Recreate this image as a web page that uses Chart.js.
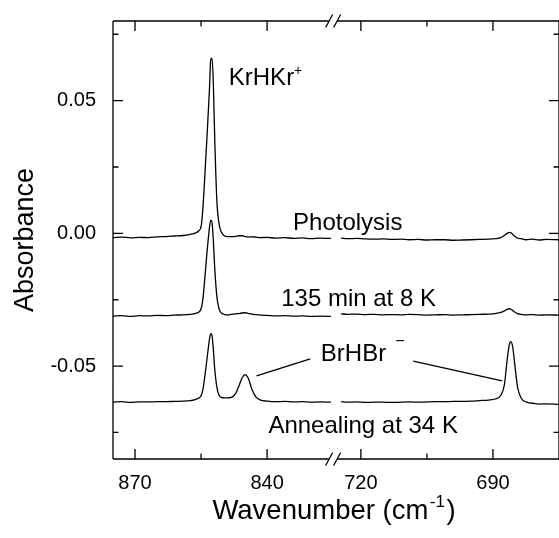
<!DOCTYPE html>
<html>
<head>
<meta charset="utf-8">
<script src="https://cdn.jsdelivr.net/npm/chart.js@4/dist/chart.umd.min.js"></script>
<style>
  html, body { margin: 0; padding: 0; background: #fff; }
</style>
</head>
<body>
<canvas id="myChart" width="559" height="538"></canvas>
<script>
// wavenumber grid (cm-1): left segment, one gap point, right segment
const wavenumbers = [
  875, 873, 871, 869, 867, 865, 863, 861, 859, 857.5, 856.5, 855.5, 855, 854.6, 854.2,
  853.7, 853.1, 852.8, 852.5, 852.2, 851.9, 851.4, 850.9, 850.4, 849.8, 849, 848.1,
  847.2, 846.4, 845.7, 845, 844.3, 843.5, 842.6, 841.5, 840, 838, 836, 834, 832, 830,
  828, 825.5,
  775,
  724.5, 723, 721, 719, 717, 715, 713, 711, 709, 707, 705, 703, 701, 699, 697, 695, 693,
  691, 689.5, 688.2, 687.4, 686.8, 686.3, 685.9, 685.5, 685, 684.4, 683.6, 682.5, 681,
  679.5, 678, 675
];

const photolysis = [
  -0.0016, -0.0014, -0.0017, -0.0015, -0.0016, -0.0013, -0.0012, -0.0010, -0.0008, -0.0004,
  0.0000, 0.0010, 0.0025, 0.0090, 0.0200, 0.0350, 0.0540, 0.0655, 0.0660, 0.0560, 0.0360,
  0.0120, 0.0035, 0.0005, -0.0008, -0.0012, -0.0012, -0.0011, -0.0009, -0.0009, -0.0012,
  -0.0014, -0.0013, -0.0014, -0.0016, -0.0015, -0.0018, -0.0016, -0.0019, -0.0017, -0.0020,
  -0.0018, -0.0019,
  null,
  -0.0018, -0.0020, -0.0019, -0.0021, -0.0022, -0.0021, -0.0023, -0.0022, -0.0024, -0.0023,
  -0.0025, -0.0024, -0.0024, -0.0026, -0.0025, -0.0024, -0.0023, -0.0022, -0.0020, -0.0016,
  -0.0008, 0.0000, 0.0004, 0.0002, -0.0004, -0.0012, -0.0018, -0.0020, -0.0024, -0.0022,
  -0.0025, -0.0023, -0.0024
];

const after135min = [
  -0.0312, -0.0310, -0.0313, -0.0310, -0.0311, -0.0309, -0.0310, -0.0308, -0.0307, -0.0305,
  -0.0302, -0.0296, -0.0285, -0.0250, -0.0180, -0.0080, 0.0020, 0.0050, 0.0040, -0.0030,
  -0.0130, -0.0240, -0.0285, -0.0300, -0.0305, -0.0307, -0.0305, -0.0303, -0.0302, -0.0300,
  -0.0299, -0.0301, -0.0304, -0.0306, -0.0308, -0.0309, -0.0311, -0.0310, -0.0312, -0.0311,
  -0.0313, -0.0312, -0.0313,
  null,
  -0.0303, -0.0305, -0.0304, -0.0306, -0.0305, -0.0307, -0.0306, -0.0307, -0.0305, -0.0306,
  -0.0308, -0.0307, -0.0306, -0.0308, -0.0307, -0.0306, -0.0305, -0.0304, -0.0302, -0.0298,
  -0.0292, -0.0286, -0.0284, -0.0286, -0.0291, -0.0297, -0.0302, -0.0305, -0.0307, -0.0306,
  -0.0308, -0.0307, -0.0308
];

const annealing = [
  -0.0636, -0.0634, -0.0637, -0.0635, -0.0635, -0.0634, -0.0634, -0.0633, -0.0632, -0.0630,
  -0.0627, -0.0620, -0.0612, -0.0590, -0.0545, -0.0480, -0.0400, -0.0378, -0.0385, -0.0440,
  -0.0510, -0.0580, -0.0610, -0.0618, -0.0620, -0.0620, -0.0618, -0.0605, -0.0575, -0.0545,
  -0.0532, -0.0545, -0.0585, -0.0615, -0.0628, -0.0632, -0.0634, -0.0633, -0.0635, -0.0634,
  -0.0636, -0.0635, -0.0636,
  null,
  -0.0634, -0.0636, -0.0635, -0.0637, -0.0636, -0.0636, -0.0637, -0.0636, -0.0635, -0.0636,
  -0.0635, -0.0634, -0.0634, -0.0633, -0.0633, -0.0632, -0.0630, -0.0628, -0.0624, -0.0610,
  -0.0570, -0.0480, -0.0420, -0.0408, -0.0430, -0.0500, -0.0580, -0.0620, -0.0635, -0.0640,
  -0.0643, -0.0642, -0.0644
];

const xTicks = [870, 855, 840, 720, 705, 690];
const xLabels = [870, 840, 720, 690];
const yTicks = [-0.075, -0.05, -0.025, 0, 0.025, 0.05, 0.075];
const yLabels = [-0.05, 0, 0.05];

// text notes, anchored in data units
const notes = [
  { text: 'KrHKr', sup: '+', w: 848.7, a: 0.0559, gap: 0, rise: 10 },
  { text: 'Photolysis', w: 834.1, a: 0.0013 },
  { text: '135 min at 8 K', w: 836.8, a: -0.0274 },
  { text: 'BrHBr', sup: '\u2212', w: 827.8, a: -0.0481, gap: 9, rise: 15 },
  { text: 'Annealing at 34 K', w: 839.7, a: -0.0752 }
];
const leaders = [
  [842.4, -0.0537, 830.2, -0.0473],
  [708.1, -0.0481, 687.9, -0.0556]
];

// broken x axis: 875..825 then 726.3..675
const LEFT_HI = 875, LEFT_LO = 825, RIGHT_HI = 726.3, RIGHT_LO = 675;
const SPAN = (LEFT_HI - LEFT_LO) + (RIGHT_HI - RIGHT_LO);

function toDecimal(w) {
  const u = w > (LEFT_LO + RIGHT_HI) / 2 ? LEFT_HI - w : (LEFT_HI - LEFT_LO) + (RIGHT_HI - w);
  return u / SPAN;
}

class BrokenScale extends Chart.LinearScale {
  getPixelForValue(value) {
    return this.getPixelForDecimal(toDecimal(value));
  }
  getValueForPixel(pixel) {
    const u = this.getDecimalForPixel(pixel) * SPAN;
    return u < LEFT_HI - LEFT_LO ? LEFT_HI - u : RIGHT_HI - (u - (LEFT_HI - LEFT_LO));
  }
}
BrokenScale.id = 'broken';
BrokenScale.defaults = {};
Chart.register(BrokenScale);

const FONT = '"Liberation Sans", Arial, sans-serif';
Chart.defaults.font.family = FONT;
Chart.defaults.color = '#000';

function series(values) {
  return wavenumbers.map((w, i) => ({ x: w, y: values[i] }));
}

function lineSet(values) {
  return {
    data: series(values),
    borderColor: '#000',
    borderWidth: 1.3,
    pointRadius: 0,
    cubicInterpolationMode: 'monotone',
    spanGaps: false
  };
}

const isIn = (list, v) => list.some(l => Math.abs(l - v) < 1e-9);

const frame = {
  id: 'frame',
  afterDraw(chart) {
    const { ctx, chartArea: a, scales: { x, y } } = chart;
    const xb = x.getPixelForValue(LEFT_LO);
    ctx.save();
    ctx.strokeStyle = '#000';
    ctx.lineWidth = 1.3;
    ctx.beginPath();
    ctx.moveTo(a.left, a.top); ctx.lineTo(a.left, a.bottom);
    ctx.moveTo(a.right, a.top); ctx.lineTo(a.right, a.bottom);
    [a.top, a.bottom].forEach(yy => {
      ctx.moveTo(a.left, yy); ctx.lineTo(xb - 4, yy);
      ctx.moveTo(xb + 4, yy); ctx.lineTo(a.right, yy);
      [xb - 4, xb + 4].forEach(sx => {
        ctx.moveTo(sx - 3.5, yy + 6.5); ctx.lineTo(sx + 3.5, yy - 6.5);
      });
    });
    xTicks.forEach(v => {
      const px = x.getPixelForValue(v);
      const len = isIn(xLabels, v) ? 10 : 5.5;
      ctx.moveTo(px, a.bottom); ctx.lineTo(px, a.bottom - len);
      ctx.moveTo(px, a.top); ctx.lineTo(px, a.top + len);
    });
    yTicks.forEach(v => {
      const py = y.getPixelForValue(v);
      const len = isIn(yLabels, v) ? 10 : 5.5;
      ctx.moveTo(a.left, py); ctx.lineTo(a.left + len, py);
      ctx.moveTo(a.right, py); ctx.lineTo(a.right - len, py);
    });
    leaders.forEach(([w1, a1, w2, a2]) => {
      ctx.moveTo(x.getPixelForValue(w1), y.getPixelForValue(a1));
      ctx.lineTo(x.getPixelForValue(w2), y.getPixelForValue(a2));
    });
    ctx.stroke();

    ctx.fillStyle = '#000';
    ctx.textBaseline = 'alphabetic';
    ctx.textAlign = 'left';
    notes.forEach(n => {
      const px = x.getPixelForValue(n.w);
      const py = y.getPixelForValue(n.a);
      ctx.font = '24px ' + FONT;
      ctx.fillText(n.text, px, py);
      if (n.sup) {
        const end = px + ctx.measureText(n.text).width;
        ctx.font = (n.sup === '+' ? '14px ' : '16px ') + FONT;
        ctx.fillText(n.sup, end + n.gap, py - n.rise);
      }
    });

    // axis titles
    ctx.font = '27px ' + FONT;
    ctx.save();
    ctx.translate(33, 240);
    ctx.rotate(-Math.PI / 2);
    ctx.textAlign = 'center';
    ctx.fillText('Absorbance', 0, 0);
    ctx.restore();

    const t1 = 'Wavenumber (cm', t2 = '-1', t3 = ')';
    ctx.font = '27.5px ' + FONT;
    const w1 = ctx.measureText(t1).width;
    const w3 = ctx.measureText(t3).width;
    ctx.font = '17px ' + FONT;
    const w2 = ctx.measureText(t2).width;
    let tx = 334 - (w1 + w2 + w3 + 3) / 2;
    const ty = 519;
    ctx.font = '27.5px ' + FONT;
    ctx.fillText(t1, tx, ty);
    tx += w1 + 1.5;
    ctx.font = '17px ' + FONT;
    ctx.fillText(t2, tx, ty - 12);
    tx += w2 + 1.5;
    ctx.font = '27.5px ' + FONT;
    ctx.fillText(t3, tx, ty);
    ctx.restore();
  }
};

new Chart(document.getElementById('myChart'), {
  type: 'line',
  data: {
    datasets: [lineSet(photolysis), lineSet(after135min), lineSet(annealing)]
  },
  options: {
    responsive: false,
    animation: false,
    devicePixelRatio: 1,
    layout: { padding: { top: 21, right: -4.5, left: 0, bottom: 0 } },
    plugins: { legend: { display: false }, tooltip: { enabled: false } },
    scales: {
      x: {
        type: 'broken',
        min: RIGHT_LO,
        max: LEFT_HI,
        afterBuildTicks: axis => { axis.ticks = xTicks.map(v => ({ value: v })); },
        afterFit: axis => { axis.height = 79; axis.paddingLeft = 0; axis.paddingRight = 0; },
        grid: { display: false, drawTicks: false },
        border: { display: false },
        ticks: {
          autoSkip: false,
          maxRotation: 0,
          padding: 12,
          font: { size: 20 },
          callback: v => isIn(xLabels, v) ? String(v) : ''
        }
      },
      y: {
        min: -0.085,
        max: 0.08,
        afterBuildTicks: axis => { axis.ticks = yTicks.map(v => ({ value: v })); },
        afterFit: axis => { axis.width = 113; axis.paddingTop = 0; axis.paddingBottom = 0; },
        grid: { display: false, drawTicks: false },
        border: { display: false },
        ticks: {
          padding: 17,
          font: { size: 20 },
          callback: v => isIn(yLabels, v) ? v.toFixed(2) : ''
        }
      }
    }
  },
  plugins: [frame]
});
</script>
</body>
</html>
